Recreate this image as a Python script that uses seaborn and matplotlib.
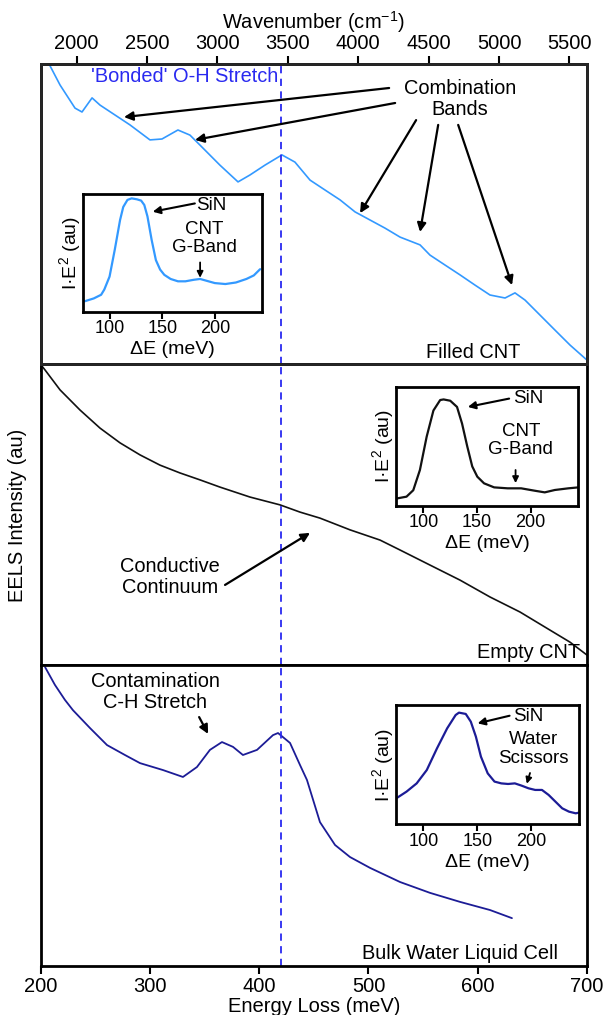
import numpy as np
import pandas as pd
import matplotlib
matplotlib.use("Agg")
import matplotlib.pyplot as plt
import seaborn as sns

sns.set_theme(style="white")
plt.rcParams['font.family'] = ['Liberation Sans', 'DejaVu Sans']
plt.rcParams['mathtext.fontset'] = 'custom'
plt.rcParams['mathtext.rm'] = 'Liberation Sans'
plt.rcParams['mathtext.it'] = 'Liberation Sans'
plt.rcParams['text.color'] = 'black'
plt.rcParams['axes.labelcolor'] = 'black'
plt.rcParams['xtick.color'] = 'black'
plt.rcParams['ytick.color'] = 'black'

# ---------------- data ----------------
filled_E = [205.8, 217.7, 231.4, 237.8, 247, 254.3, 268, 281.7, 300, 311, 325.6, 336.6, 345.7,
            364, 380.6, 391.5, 405.3, 420.8, 432.7, 446.5, 460.2, 474, 487.7, 501.4, 515.1,
            528.9, 547.2, 556.3, 570, 583.8, 597.5, 611.2, 625, 634.1, 643.3, 657, 670.7, 684.5, 700]
filled_I = [1.013, 0.93, 0.853, 0.84, 0.887, 0.863, 0.83, 0.797, 0.747, 0.75, 0.78, 0.763, 0.73,
            0.663, 0.607, 0.63, 0.663, 0.697, 0.673, 0.613, 0.58, 0.547, 0.507, 0.48, 0.453,
            0.423, 0.397, 0.363, 0.33, 0.297, 0.263, 0.23, 0.22, 0.237, 0.213, 0.163, 0.113, 0.063, 0.013]

empty_E = [200.3, 204, 217.7, 236, 254.3, 272.6, 290.9, 309.2, 327.5, 345.8, 364.1, 391.5, 419,
           437.3, 455.6, 483.1, 510.6, 528.9, 556.3, 583.8, 611.2, 638.7, 666.1, 684.4, 700]
empty_I = [0.997, 0.98, 0.914, 0.847, 0.787, 0.738, 0.698, 0.664, 0.638, 0.615, 0.591, 0.558, 0.532,
           0.508, 0.488, 0.449, 0.415, 0.382, 0.332, 0.282, 0.226, 0.176, 0.116, 0.076, 0.033]

water_E = [204, 213, 222.2, 229.5, 245, 260.7, 277.1, 290.9, 311.9, 330.2, 343, 354.9, 365.9, 376,
           385.1, 398, 412.6, 417.2, 428.2, 437.3, 443.7, 455.6, 469.4, 483.1, 501.4, 528.9,
           556.3, 583.8, 611.2, 631.3]
water_I = [0.993, 0.934, 0.884, 0.85, 0.791, 0.734, 0.701, 0.674, 0.651, 0.628, 0.661, 0.718, 0.744,
           0.728, 0.701, 0.718, 0.767, 0.774, 0.741, 0.668, 0.618, 0.478, 0.402, 0.362, 0.326,
           0.279, 0.243, 0.213, 0.186, 0.159]

in1_dE = [76, 85, 92, 95, 100, 105, 110, 113, 117, 121, 126, 130, 133, 136, 140, 144, 148, 152,
          158, 165, 172, 180, 186, 192, 200, 210, 220, 230, 237, 243]
in1_I = [0.09, 0.115, 0.146, 0.19, 0.30, 0.53, 0.78, 0.89, 0.95, 0.963, 0.955, 0.944, 0.907, 0.81,
         0.61, 0.44, 0.36, 0.315, 0.28, 0.26, 0.26, 0.273, 0.28, 0.265, 0.245, 0.237, 0.25, 0.28,
         0.31, 0.363]

in2_dE = [74.8, 84.3, 90.6, 96.8, 103.1, 109.4, 115.7, 118.9, 125.1, 131.4, 136.1, 140.9, 145.6,
          150.3, 156.6, 166, 178.6, 191.2, 203.8, 213.2, 222.6, 235.2, 244.6]
in2_I = [0.06, 0.076, 0.13, 0.30, 0.58, 0.80, 0.888, 0.893, 0.882, 0.83, 0.69, 0.50, 0.33,
         0.244, 0.188, 0.154, 0.146, 0.146, 0.126, 0.112, 0.132, 0.146, 0.154]

in3_dE = [74.8, 84.3, 93.7, 103.1, 112.6, 122, 129.9, 133, 139.3, 144, 148.7, 153.4, 159.7, 166,
          172.3, 178.6, 184.9, 191.2, 197.5, 203.8, 210.1, 216.3, 222.6, 228.9, 235.2, 241.5, 244.6]
in3_I = [0.218, 0.274, 0.343, 0.455, 0.637, 0.804, 0.916, 0.936, 0.925, 0.86, 0.735, 0.567, 0.427,
         0.358, 0.343, 0.338, 0.343, 0.324, 0.302, 0.288, 0.288, 0.246, 0.19, 0.134, 0.106, 0.092,
         0.098]

bottom_ticks = [200, 300, 400, 500, 600, 700]
top_ticks = [2000, 2500, 3000, 3500, 4000, 4500, 5000, 5500]
inset_ticks = [100, 150, 200]
oh_line = 420

c_filled = "#3399ff"
c_empty = "#111111"
c_water = "#1c1c96"
c_dash = "#2a2af0"

W, H = 607, 1015
fig = plt.figure(figsize=(W / 100, H / 100), dpi=100)

def fx(px):
    return px / W

def fy(py):
    return 1 - py / H

FS = 14.4

L, R = 40.7, 587
panels = [(64, 364), (364, 665), (665, 966)]
axes = []
for (t, b) in panels:
    ax = fig.add_axes([fx(L), fy(b), fx(R) - fx(L), (b - t) / H])
    ax.set_xlim(200, 700)
    ax.set_ylim(0, 1)
    ax.set_yticks([])
    for s in ax.spines.values():
        s.set_linewidth(2)
        s.set_color("black")
    axes.append(ax)

ax1, ax2, ax3 = axes

sns.lineplot(x=filled_E, y=filled_I, ax=ax1, color=c_filled, lw=1.2, sort=False)
sns.lineplot(x=empty_E, y=empty_I, ax=ax2, color=c_empty, lw=1.2, sort=False)
sns.lineplot(x=water_E, y=water_I, ax=ax3, color=c_water, lw=1.3, sort=False)

for ax in axes:
    ax.axvline(oh_line, color=c_dash, ls=(0, (4, 3)), lw=1.3)
    ax.set_xticks(bottom_ticks)
    ax.set_xlabel("")
    ax.set_ylabel("")

for ax in (ax1, ax2):
    ax.tick_params(axis='x', bottom=False, labelbottom=False)

ax3.tick_params(axis='x', direction='out', length=6, width=1.5, labelsize=14.5, pad=2,
                bottom=True, colors='black')
ax3.set_xlabel("Energy Loss (meV)", fontsize=14.5, labelpad=1)

# top wavenumber axis
axt = ax1.twiny()
axt.set_xlim(1745, 5625)
axt.set_xticks(top_ticks)
axt.tick_params(axis='x', direction='out', length=6, width=1.5, labelsize=14.5, pad=2, top=True)
axt.set_xlabel("Wavenumber (cm$^{-1}$)", fontsize=14.5, labelpad=4)
for s in axt.spines.values():
    s.set_linewidth(2)

fig.text(fx(18), fy(515), "EELS Intensity (au)", rotation=90, ha='center', va='center', fontsize=14.5)

arrow_kw = dict(arrowstyle='-|>', lw=1.6, color='black', mutation_scale=13, shrinkA=0, shrinkB=0)

# top panel annotations
ax1.text(417.2, 0.96, "'Bonded' O-H Stretch", color=c_dash, ha='right', va='center', fontsize=FS)
ax1.text(583.8, 0.883, "Combination\nBands", ha='center', va='center', fontsize=FS, linespacing=1.15)
for (x0, y0, x1, y1) in [(518.9, 0.92, 276.2, 0.823), (524.4, 0.87, 341.2, 0.747),
                         (543.6, 0.813, 492.3, 0.503), (563.8, 0.797, 547.2, 0.44),
                         (582.1, 0.797, 631.4, 0.263)]:
    ax1.annotate("", xy=(x1, y1), xytext=(x0, y0), arrowprops=arrow_kw)
ax1.text(596, 0.04, "Filled CNT", ha='center', va='center', fontsize=FS)

ax2.text(318.5, 0.292, "Conductive\nContinuum", ha='center', va='center', fontsize=FS, linespacing=1.15)
ax2.annotate("", xy=(446.5, 0.439), xytext=(368.7, 0.266), arrowprops=arrow_kw)
ax2.text(693.5, 0.043, "Empty CNT", ha='right', va='center', fontsize=FS)

ax3.text(304.7, 0.91, "Contamination\nC-H Stretch", ha='center', va='center', fontsize=FS, linespacing=1.15)
ax3.annotate("", xy=(353.2, 0.771), xytext=(345, 0.827), arrowprops=arrow_kw)
ax3.text(583.8, 0.043, "Bulk Water Liquid Cell", ha='center', va='center', fontsize=FS)

# insets
def make_inset(l, r, t, b, x, y, color, sin_xy, sin_tail, sin_head, lbl, lbl_xy, a_tail, a_head):
    ia = fig.add_axes([fx(l), fy(b), fx(r) - fx(l), (b - t) / H])
    sns.lineplot(x=x, y=y, ax=ia, color=color, lw=1.6, sort=False)
    ia.set_xlim(74.5, 244.5)
    ia.set_ylim(0, 1)
    ia.set_yticks([])
    ia.set_xticks(inset_ticks)
    ia.tick_params(axis='x', direction='out', length=5, width=1.5, labelsize=13, pad=1, bottom=True)
    for s in ia.spines.values():
        s.set_linewidth(2)
        s.set_color("black")
    ia.set_xlabel("ΔE (meV)", fontsize=14, labelpad=3)
    ia.set_ylabel("I·E$^2$ (au)", fontsize=14, labelpad=0)
    ia.text(sin_xy[0], sin_xy[1], "SiN", ha='center', va='center', fontsize=13.5)
    ia.annotate("", xy=sin_head, xytext=sin_tail, arrowprops=dict(arrow_kw, lw=1.5, mutation_scale=11))
    ia.text(lbl_xy[0], lbl_xy[1], lbl, ha='center', va='center', fontsize=13.5, linespacing=1.1)
    ia.annotate("", xy=a_head, xytext=a_tail, arrowprops=dict(arrow_kw, lw=1.3, mutation_scale=9))
    return ia

make_inset(82.7, 261.7, 194, 312, in1_dE, in1_I, c_filled,
           (197, 0.90), (181, 0.92), (141, 0.85), "CNT\nG-Band", (190, 0.62), (186, 0.42), (186, 0.29))
make_inset(396, 578.3, 386.7, 505.7, in2_dE, in2_I, c_empty,
           (197.5, 0.90), (180, 0.90), (141.5, 0.83), "CNT\nG-Band", (191, 0.55), (186, 0.30), (186, 0.19))
make_inset(396, 579, 705, 824.3, in3_dE, in3_I, c_water,
           (197.5, 0.90), (180, 0.91), (150.3, 0.846), "Water\nScissors", (202, 0.63), (199, 0.43), (196, 0.34))

fig.savefig("out.png", dpi=100)
